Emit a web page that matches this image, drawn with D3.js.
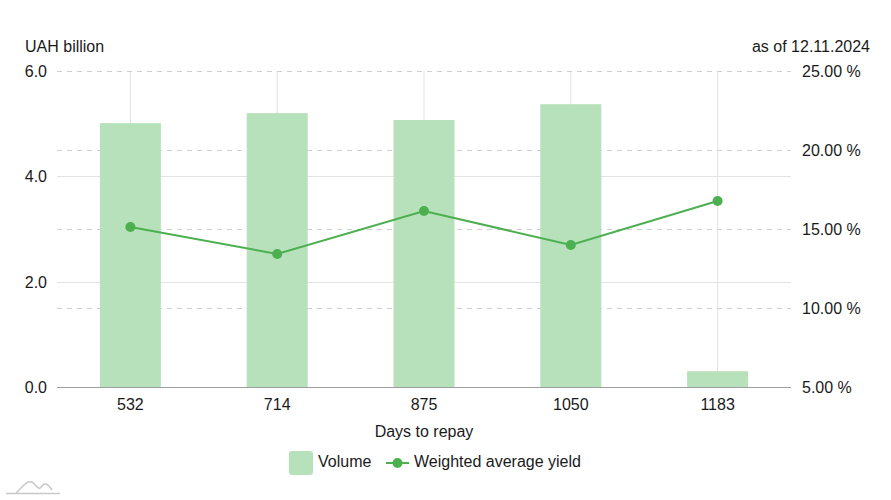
<!DOCTYPE html>
<html><head><meta charset="utf-8">
<script src="https://cdn.jsdelivr.net/npm/d3@7"></script>
<style>body{margin:0;background:#fff}svg{display:block;font-family:"Liberation Sans",Arial,sans-serif}</style>
</head><body><svg id="c" width="891" height="500"></svg>
<script>
const categories = ["532","714","875","1050","1183"];
const volume = [5.01, 5.20, 5.07, 5.37, 0.30];
const yieldPct = [15.13, 13.42, 16.14, 13.99, 16.77];
const leftTicks = [0, 2, 4, 6];
const rightTicks = [5, 10, 15, 20, 25];

const svg = d3.select("#c");
const L = 57, R = 791, T = 71, B = 387;
const x = d3.scaleBand().domain(categories).range([L, R]);
const yL = d3.scaleLinear().domain([0, 6]).range([B, T]);
const yR = d3.scaleLinear().domain([5, 25]).range([B, T]);
const green = "#4caf50", barC = "#b7e1bb";

// vertical grid at category centers
svg.append("g").selectAll("line").data(categories).join("line")
  .attr("x1", d => x(d) + x.bandwidth()/2).attr("x2", d => x(d) + x.bandwidth()/2)
  .attr("y1", T).attr("y2", B).attr("stroke", "#e3e3e3").attr("stroke-width", 1);
// left solid grid
svg.append("g").selectAll("line").data(leftTicks.filter(d => d > 0 && d < 6)).join("line")
  .attr("x1", L).attr("x2", R).attr("y1", d => Math.round(yL(d)) + 0.5).attr("y2", d => Math.round(yL(d)) + 0.5)
  .attr("stroke", "#e3e3e3");
// right dashed grid
svg.append("g").selectAll("line").data(rightTicks.filter(d => d > 5)).join("line")
  .attr("x1", L).attr("x2", R).attr("y1", d => Math.round(yR(d)) + 0.5).attr("y2", d => Math.round(yR(d)) + 0.5)
  .attr("stroke", "#cfcfcf").attr("stroke-dasharray", "5,5");

// bars
const bw = 61;
svg.append("g").selectAll("rect").data(volume).join("rect")
  .attr("x", (d, i) => x(categories[i]) + x.bandwidth()/2 - bw/2)
  .attr("width", bw)
  .attr("y", d => yL(d)).attr("height", d => B - yL(d))
  .attr("fill", barC);

// baseline
svg.append("line").attr("x1", L).attr("x2", R).attr("y1", B + 0.5).attr("y2", B + 0.5).attr("stroke", "#9e9e9e");

// line
const line = d3.line().x((d, i) => x(categories[i]) + x.bandwidth()/2).y(d => yR(d));
svg.append("path").datum(yieldPct).attr("d", line).attr("fill", "none").attr("stroke", green).attr("stroke-width", 2);
svg.append("g").selectAll("circle").data(yieldPct).join("circle")
  .attr("cx", (d, i) => x(categories[i]) + x.bandwidth()/2).attr("cy", d => yR(d)).attr("r", 5).attr("fill", green);

// axes labels
const fs = 16, tc = "#1a1a1a";
svg.append("g").selectAll("text").data(leftTicks).join("text")
  .attr("x", 47).attr("y", d => yL(d) + 6).attr("text-anchor", "end")
  .attr("font-size", fs).attr("fill", tc).text(d => d.toFixed(1));
svg.append("g").selectAll("text").data(rightTicks).join("text")
  .attr("x", 802).attr("y", d => yR(d) + 6).attr("text-anchor", "start")
  .attr("font-size", fs).attr("fill", tc).text(d => d.toFixed(2) + " %");
svg.append("g").selectAll("text").data(categories).join("text")
  .attr("x", d => x(d) + x.bandwidth()/2).attr("y", 410).attr("text-anchor", "middle")
  .attr("font-size", fs).attr("fill", tc).text(d => d);
svg.append("text").attr("x", (L + R)/2).attr("y", 437).attr("text-anchor", "middle")
  .attr("font-size", fs).attr("fill", tc).text("Days to repay");
svg.append("text").attr("x", 25).attr("y", 52).attr("font-size", fs).attr("fill", tc).text("UAH billion");
svg.append("text").attr("x", 870).attr("y", 52).attr("text-anchor", "end").attr("font-size", fs).attr("fill", tc).text("as of 12.11.2024");

// legend
const lg = svg.append("g");
lg.append("rect").attr("x", 289).attr("y", 451).attr("width", 24).attr("height", 24).attr("rx", 3).attr("fill", barC);
lg.append("text").attr("x", 318).attr("y", 467).attr("font-size", fs).attr("fill", tc).text("Volume");
lg.append("line").attr("x1", 386).attr("x2", 409).attr("y1", 463).attr("y2", 463).attr("stroke", green).attr("stroke-width", 2);
lg.append("circle").attr("cx", 397.5).attr("cy", 463).attr("r", 5).attr("fill", green);
lg.append("text").attr("x", 414).attr("y", 467).attr("font-size", fs).attr("fill", tc).text("Weighted average yield");

// logo
const lgo = svg.append("g").attr("fill", "none").attr("stroke", "#c8c8c8").attr("stroke-width", 1.5);
lgo.append("path").attr("d", "M16,493 C22,488 26,480 32,482 C36,484 38,492 42,486 C45,482 48,484 52,490");
lgo.append("line").attr("x1", 6).attr("x2", 60).attr("y1", 493.5).attr("y2", 493.5);
</script></body></html>
